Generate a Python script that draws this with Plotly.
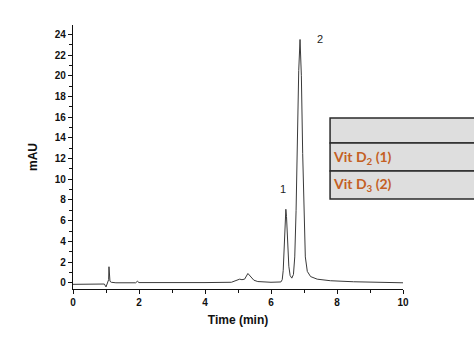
import plotly.graph_objects as go

# Chromatogram trace (time in min, signal in mAU)
time_min = [0.0, 0.5, 0.95, 1.0, 1.03, 1.06, 1.08, 1.09, 1.10, 1.12, 1.16, 1.3,
            1.9, 1.95, 2.0, 3.0, 4.0, 4.8, 4.95, 5.05, 5.12, 5.2, 5.3, 5.38, 5.48, 5.6, 6.0,
            6.3, 6.34, 6.37, 6.40, 6.43, 6.45, 6.47, 6.50, 6.54, 6.58, 6.63,
            6.68, 6.72, 6.76, 6.80, 6.84, 6.88, 6.92, 6.96, 7.00, 7.04, 7.10,
            7.2, 7.4, 7.8, 8.5, 9.0, 10.0]
signal_mau = [-0.15, -0.14, -0.12, -0.4, -0.2, 0.05, 0.3, 1.55, 0.6, 0.15, 0.05, 0.0,
              0.0, 0.15, 0.02, 0.0, 0.02, 0.05, 0.2, 0.35, 0.3, 0.35, 0.9, 0.6, 0.25, 0.12, 0.05,
              0.08, 0.3, 1.2, 3.6, 6.3, 7.1, 6.4, 4.0, 1.6, 0.7, 0.45,
              0.8, 2.5, 7.0, 14.0, 20.5, 23.5, 20.0, 12.5, 6.0, 2.5, 1.1,
              0.6, 0.35, 0.2, 0.1, 0.08, 0.0]

peak_labels = ["1", "2"]
peak_label_x = [6.36, 7.48]
peak_label_y = [9.1, 23.5]

table_rows = ["", "Vit D<sub>2</sub> (1)", "Vit D<sub>3</sub> (2)"]

fig = go.Figure()
fig.add_trace(go.Scatter(x=time_min, y=signal_mau, mode="lines",
                         line=dict(color="#3a3a3a", width=1), hoverinfo="skip"))

for t, xx, yy in zip(peak_labels, peak_label_x, peak_label_y):
    fig.add_annotation(x=xx, y=yy, text=t, showarrow=False,
                       font=dict(family="Liberation Sans", size=11, color="#222"))

# table drawn in paper coordinates
row_edges = [0.648, 0.553, 0.447, 0.341]
x0, x1 = 0.779, 1.25
for i, label in enumerate(table_rows):
    fig.add_shape(type="rect", xref="paper", yref="paper", x0=x0, x1=x1,
                  y0=row_edges[i + 1], y1=row_edges[i],
                  fillcolor="#dedede", line=dict(color="#2a2a2a", width=1.5), layer="above")
    if label:
        fig.add_annotation(xref="paper", yref="paper", x=x0 + 0.004,
                           y=(row_edges[i] + row_edges[i + 1]) / 2,
                           text=label, showarrow=False, xanchor="left", yanchor="middle",
                           font=dict(family="Lato", size=14, color="#c45f24", weight="bold"))

tickfont = dict(family="Liberation Sans", size=10, color="#111", weight="bold")
titlefont = dict(family="Liberation Sans", size=12, color="#111", weight="bold")

fig.update_layout(
    width=474, height=355,
    margin=dict(l=73, r=71, t=25, b=66),
    paper_bgcolor="white", plot_bgcolor="white",
    showlegend=False,
    xaxis=dict(range=[0, 10], dtick=2, ticks="outside", ticklen=4, tickwidth=1,
               tickcolor="#111", showline=True, linecolor="#111", linewidth=1.2,
               showgrid=False, zeroline=False, tickfont=tickfont,
               minor=dict(dtick=1, ticks="outside", ticklen=3, tickcolor="#111"),
               title=dict(text="Time (min)", font=titlefont, standoff=8)),
    yaxis=dict(range=[-0.6, 24.9], dtick=2, tick0=0, ticks="outside", ticklen=4, tickwidth=1,
               tickcolor="#111", showline=True, linecolor="#111", linewidth=1.2,
               showgrid=False, zeroline=False, tickfont=tickfont,
               minor=dict(dtick=1, ticks="outside", ticklen=3, tickcolor="#111"),
               title=dict(text="mAU", font=titlefont, standoff=14)),
)

fig.write_html("out.html")
